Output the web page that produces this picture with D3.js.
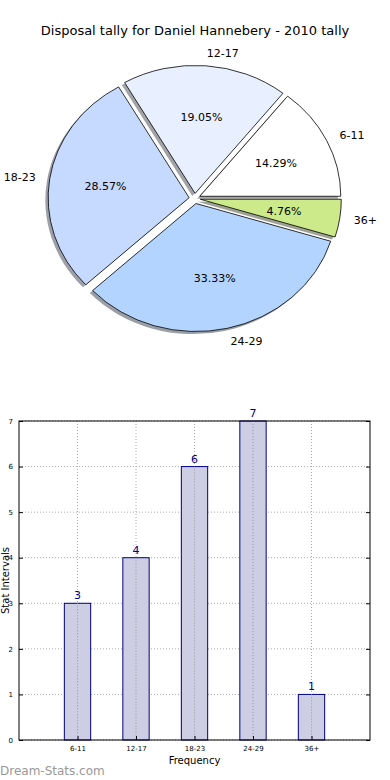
<!DOCTYPE html>
<html>
<head>
<meta charset="utf-8">
<script src="https://cdn.jsdelivr.net/npm/d3@7"></script>
<style>
  body { margin: 0; background: #fff; }
  svg { display: block; font-family: "DejaVu Sans", sans-serif; }
</style>
</head>
<body>
<svg id="chart" width="390" height="780"></svg>
<script>
const svg = d3.select('#chart');

// data
const categories = ['6-11', '12-17', '18-23', '24-29', '36+'];
const counts = [3, 4, 6, 7, 1];
const sliceColors = ['#ffffff', '#e8f0ff', '#c6d9ff', '#b3d4ff', '#cdea8b'];
const yTicks = [0, 1, 2, 3, 4, 5, 6, 7];

const total = d3.sum(counts);

// title
svg.append('text')
  .attr('x', 195).attr('y', 35)
  .attr('text-anchor', 'middle')
  .attr('font-size', 13)
  .text('Disposal tally for Daniel Hannebery - 2010 tally');

// ---- pie (matplotlib style: counter-clockwise from east, elliptical) ----
const cx = 194.7, cy = 198.5, rx = 141, ry = 128;
const explode = 0.04;

// d3 angles: 0 at 12 o'clock, clockwise -> east is PI/2, go backwards
const pie = d3.pie().sort(null)
  .startAngle(Math.PI / 2)
  .endAngle(Math.PI / 2 - 2 * Math.PI);
const arcs = pie(counts);
const arc = d3.arc().innerRadius(0).outerRadius(1);

// unit-circle direction of the middle of a slice (y up is negative in svg)
const mid = (d) => (d.startAngle + d.endAngle) / 2;
const ux = (d) => Math.sin(mid(d));
const uy = (d) => -Math.cos(mid(d));

const pieG = svg.append('g');

// shadows first, all beneath the wedges
pieG.selectAll('path.shadow')
  .data(arcs)
  .join('path')
  .attr('class', 'shadow')
  .attr('d', arc)
  .attr('transform', (d) =>
    `translate(${cx + (ux(d) * explode - 0.02) * rx},${cy + (uy(d) * explode + 0.02) * ry}) scale(${rx},${ry})`)
  .attr('fill', (d, i) => {
    const c = d3.rgb(sliceColors[i]);
    return d3.rgb(c.r * 0.3, c.g * 0.3, c.b * 0.3);
  })
  .attr('fill-opacity', 0.5)
  .attr('stroke', 'none');

pieG.selectAll('path.wedge')
  .data(arcs)
  .join('path')
  .attr('class', 'wedge')
  .attr('d', arc)
  .attr('transform', (d) =>
    `translate(${cx + ux(d) * explode * rx},${cy + uy(d) * explode * ry}) scale(${rx},${ry})`)
  .attr('fill', (d, i) => sliceColors[i])
  .attr('stroke', '#000')
  .attr('stroke-width', 0.8)
  .attr('vector-effect', 'non-scaling-stroke');

// outer labels at 1.1 radius
pieG.selectAll('text.lbl')
  .data(arcs)
  .join('text')
  .attr('class', 'lbl')
  .attr('x', (d) => cx + ux(d) * (explode + 1.1) * rx)
  .attr('y', (d) => cy + uy(d) * (explode + 1.1) * ry)
  .attr('dy', '0.35em')
  .attr('text-anchor', (d) => (ux(d) > 0 ? 'start' : 'end'))
  .attr('font-size', 11)
  .text((d, i) => categories[i]);

// percentage labels at 0.6 radius
pieG.selectAll('text.pct')
  .data(arcs)
  .join('text')
  .attr('class', 'pct')
  .attr('x', (d) => cx + ux(d) * (explode + 0.6) * rx)
  .attr('y', (d) => cy + uy(d) * (explode + 0.6) * ry)
  .attr('dy', '0.35em')
  .attr('text-anchor', 'middle')
  .attr('font-size', 11)
  .text((d) => (d.value / total * 100).toFixed(2) + '%');

// ---- bar chart ----
const plotL = 19, plotR = 370, plotT = 421, plotB = 740;
const x = d3.scaleLinear().domain([0, categories.length + 1]).range([plotL, plotR]);
const y = d3.scaleLinear().domain([0, 7]).range([plotB, plotT]);
const barW = 0.45;

const barG = svg.append('g');

// grid
barG.selectAll('line.hgrid')
  .data(yTicks)
  .join('line')
  .attr('class', 'hgrid')
  .attr('x1', plotL).attr('x2', plotR)
  .attr('y1', (d) => y(d)).attr('y2', (d) => y(d))
  .attr('stroke', '#aaa').attr('stroke-width', 1)
  .attr('stroke-dasharray', '1,2');
barG.selectAll('line.vgrid')
  .data(categories)
  .join('line')
  .attr('class', 'vgrid')
  .attr('x1', (d, i) => x(i + 1)).attr('x2', (d, i) => x(i + 1))
  .attr('y1', plotT).attr('y2', plotB)
  .attr('stroke', '#aaa').attr('stroke-width', 1)
  .attr('stroke-dasharray', '1,2');

// bars
barG.selectAll('rect.bar')
  .data(counts)
  .join('rect')
  .attr('class', 'bar')
  .attr('x', (d, i) => x(i + 1 - barW / 2))
  .attr('width', x(barW) - x(0))
  .attr('y', (d) => y(d))
  .attr('height', (d) => y(0) - y(d))
  .attr('fill', '#cdcde4')
  .attr('stroke', '#000080')
  .attr('stroke-width', 1);

// vertical grid again over the bars
barG.selectAll('line.vgrid2')
  .data(categories)
  .join('line')
  .attr('class', 'vgrid2')
  .attr('x1', (d, i) => x(i + 1)).attr('x2', (d, i) => x(i + 1))
  .attr('y1', (d, i) => y(counts[i])).attr('y2', plotB)
  .attr('stroke', '#999').attr('stroke-width', 1)
  .attr('stroke-dasharray', '1,2');

// value labels
barG.selectAll('text.val')
  .data(counts)
  .join('text')
  .attr('class', 'val')
  .attr('x', (d, i) => x(i + 1))
  .attr('y', (d) => y(d) - 4)
  .attr('text-anchor', 'middle')
  .attr('font-size', 11)
  .attr('fill', '#000080')
  .text((d) => d);

// frame
barG.append('rect')
  .attr('x', plotL).attr('y', plotT)
  .attr('width', plotR - plotL).attr('height', plotB - plotT)
  .attr('fill', 'none').attr('stroke', '#000').attr('stroke-width', 1);

// y ticks
const yAxis = d3.axisLeft(y).tickValues(yTicks).tickFormat(d3.format('d'))
  .tickSize(-4).tickPadding(6);
barG.append('g')
  .attr('transform', `translate(${plotL},0)`)
  .call(yAxis)
  .call((g) => g.select('.domain').remove())
  .call((g) => g.selectAll('text').attr('font-size', 7).attr('font-family', '"DejaVu Sans", sans-serif'));
barG.append('g')
  .attr('transform', `translate(${plotR},0)`)
  .call(d3.axisRight(y).tickValues(yTicks).tickSize(-4).tickFormat(''))
  .call((g) => g.select('.domain').remove());

// x ticks
const xAxis = d3.axisBottom(x)
  .tickValues(categories.map((c, i) => i + 1))
  .tickFormat((d) => categories[d - 1])
  .tickSize(-4).tickPadding(6);
barG.append('g')
  .attr('transform', `translate(0,${plotB})`)
  .call(xAxis)
  .call((g) => g.select('.domain').remove())
  .call((g) => g.selectAll('text').attr('font-size', 7).attr('font-family', '"DejaVu Sans", sans-serif'));

// axis labels
svg.append('text')
  .attr('x', (plotL + plotR) / 2).attr('y', 764)
  .attr('text-anchor', 'middle')
  .attr('font-size', 10)
  .text('Frequency');
svg.append('text')
  .attr('transform', `translate(9,${(plotT + plotB) / 2}) rotate(-90)`)
  .attr('text-anchor', 'middle')
  .attr('font-size', 10)
  .text('Stat Intervals');

// watermark
svg.append('text')
  .attr('x', 0).attr('y', 775)
  .attr('font-size', 12)
  .attr('fill', '#999')
  .text('Dream-Stats.com');
</script>
</body>
</html>
